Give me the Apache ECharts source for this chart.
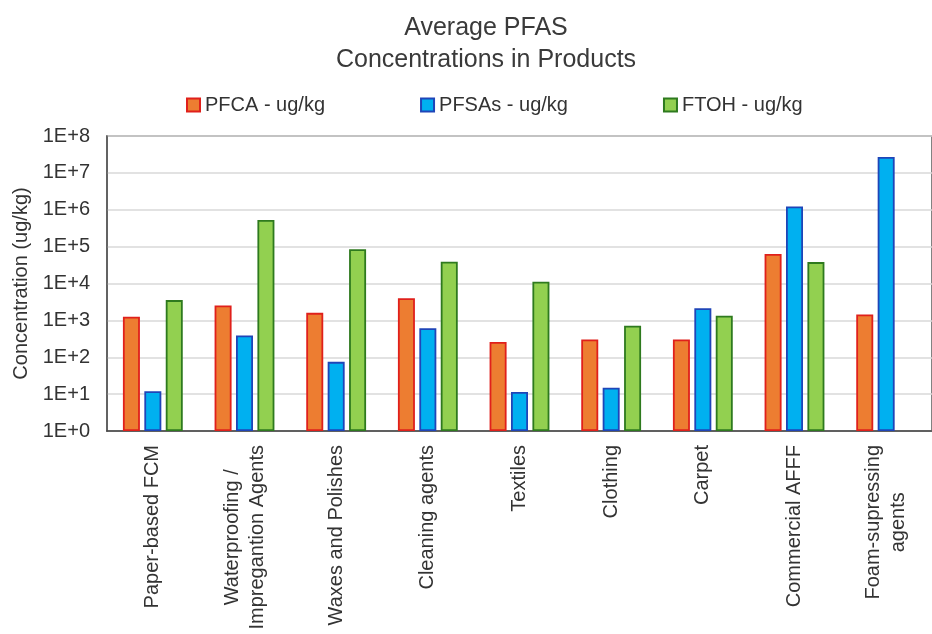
<!DOCTYPE html>
<html>
<head>
<meta charset="utf-8">
<script src="https://cdn.jsdelivr.net/npm/echarts@6/dist/echarts.min.js"></script>
<style>
html,body{margin:0;padding:0;background:#fff;}
#chart{width:932px;height:634px;}
</style>
</head>
<body>
<div id="chart"></div>
<script>
const categories = [
  'Paper-based FCM',
  'Waterproofing /\nImpregantion Agents',
  'Waxes and Polishes',
  'Cleaning agents',
  'Textiles',
  'Clothing',
  'Carpet',
  'Commercial AFFF',
  'Foam-supressing\nagents'
];
const pfca  = [1250, 2550, 1600, 4000, 260, 305, 305, 63000, 1450];
const pfsas = [12, 390, 75, 610, 11.5, 15, 2130, 1220000, 27000000];
const ftoh  = [3550, 530000, 85000, 39000, 11200, 715, 1330, 38000, null];
const seriesNames = ['PFCA - ug/kg', 'PFSAs - ug/kg', 'FTOH - ug/kg'];

const FONT = "'Liberation Sans', Arial, sans-serif";
const TXT = '#333333';

const chart = echarts.init(document.getElementById('chart'), null, {renderer: 'canvas'});

function barSeries(name, data, fill, border) {
  return {
    name: name,
    type: 'bar',
    data: data,
    barWidth: 17,
    barGap: '26%',
    itemStyle: {color: fill, borderColor: border, borderWidth: 1.8},
    emphasis: {disabled: true}
  };
}

chart.setOption({
  animation: false,
  backgroundColor: '#ffffff',
  title: {
    text: 'Average PFAS\nConcentrations in Products',
    left: 481,
    top: 7,
    textAlign: 'center',
    textStyle: {fontFamily: FONT, fontSize: 25, fontWeight: 'normal', color: '#3a3a3a', lineHeight: 32}
  },
  legend: {
    left: 181,
    top: 90,
    itemWidth: 13,
    itemHeight: 13,
    itemGap: 95,
    icon: 'rect',
    textStyle: {fontFamily: FONT, fontSize: 20, color: TXT},
    data: seriesNames
  },
  grid: {
    left: 107,
    right: -9,
    top: 136,
    bottom: 203,
    show: true,
    borderColor: '#595959',
    borderWidth: 1.5
  },
  xAxis: {
    type: 'category',
    data: categories,
    axisLine: {lineStyle: {color: '#404040', width: 1.5}},
    axisTick: {inside: true, length: 4, lineStyle: {color: '#404040', width: 1.5}},
    axisLabel: {
      rotate: 90,
      margin: 14,
      interval: 0,
      formatter: function (v) { return v.split('\n').map(function (s) { return '{c|' + s + '}'; }).join('\n'); },
      rich: {c: {align: 'center', fontFamily: FONT, fontSize: 20, lineHeight: 25, color: TXT}}
    }
  },
  yAxis: {
    type: 'log',
    logBase: 10,
    min: 1,
    max: 100000000,
    name: 'Concentration (ug/kg)',
    nameLocation: 'middle',
    nameGap: 72,
    nameTextStyle: {fontFamily: FONT, fontSize: 20, color: TXT},
    axisLine: {show: true, lineStyle: {color: '#595959', width: 1.5}},
    axisTick: {show: false},
    splitLine: {lineStyle: {color: '#d9d9d9', width: 1.5}},
    axisLabel: {
      margin: 17,
      fontFamily: FONT,
      fontSize: 20,
      color: TXT,
      formatter: function (v) { return '1E+' + Math.round(Math.log10(v)); }
    }
  },
  series: [
    barSeries(seriesNames[0], pfca, '#ED7D31', '#E0201B'),
    barSeries(seriesNames[1], pfsas, '#00B0F0', '#1F45B8'),
    barSeries(seriesNames[2], ftoh, '#92D050', '#2E7A1E')
  ]
});
</script>
</body>
</html>
